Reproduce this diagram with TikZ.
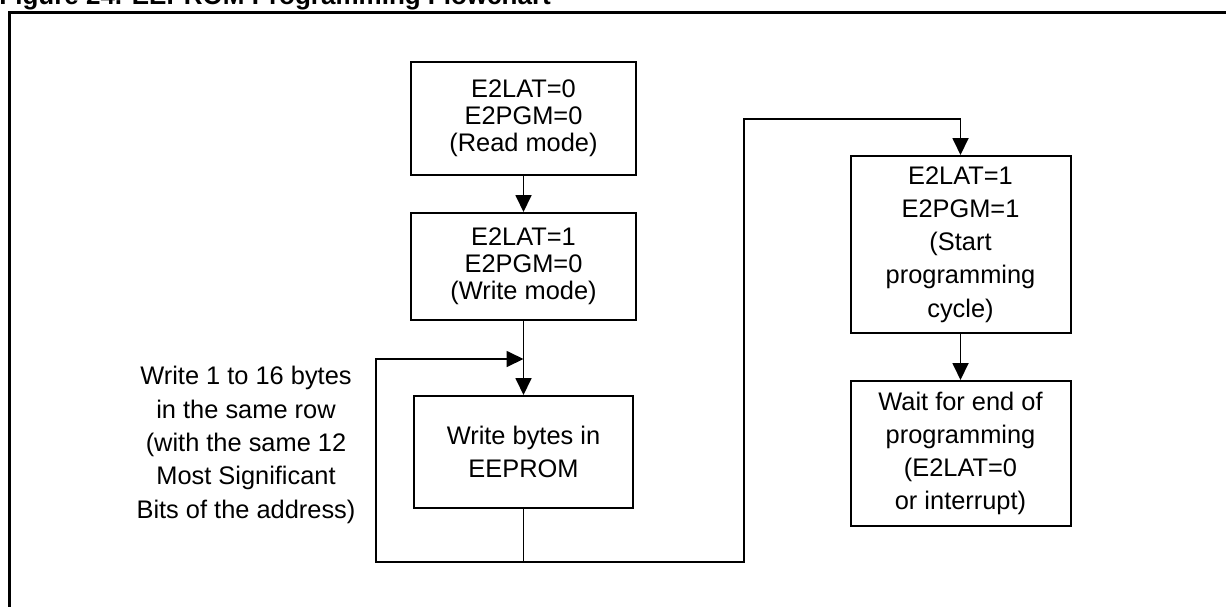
\documentclass[tikz,border=0pt]{standalone}
\usepackage{fontspec}
\setmainfont{Liberation Sans}
\usetikzlibrary{arrows.meta}

\tikzset{
  stepbox/.style={draw, line width=1pt, align=center, inner sep=0pt,
    font=\fontsize{12.7}{16.6}\selectfont},
  tightbox/.style={stepbox, font=\fontsize{12.7}{13.5}\selectfont},
  flow/.style={line width=0.9pt, -{Triangle[length=8.5pt,width=8pt]}},
  wire/.style={line width=0.9pt},
}

\begin{document}
\begin{tikzpicture}[x=0.5pt,y=-0.5pt]
  \useasboundingbox (0,0) rectangle (1226,606);
  \clip (0,0) rectangle (1226,606);

  % Title and frame
  \node[anchor=base west, inner sep=0pt, font=\fontsize{13}{15}\selectfont\bfseries] (title) at (-1,4) {Figure 24. EEPROM Programming Flowchart};
  \draw[line width=1.5pt] (9,620) -- (9,12) -- (1240,12);

  % Nodes
  \node[tightbox, minimum width=112.5pt, minimum height=56.5pt] (read) at (523.5,118.5) {E2LAT=0\\E2PGM=0\\(Read mode)};
  \node[tightbox, minimum width=112.5pt, minimum height=53.5pt] (write) at (523.5,266.5) {E2LAT=1\\E2PGM=0\\(Write mode)};
  \node[stepbox, minimum width=109.5pt, minimum height=56pt] (bytes) at (523.5,452) {Write bytes in\\EEPROM};
  \node[stepbox, minimum width=110pt, minimum height=88.5pt] (start) at (960.5,244.5) {E2LAT=1\\E2PGM=1\\(Start\\programming\\cycle)};
  \node[stepbox, minimum width=110pt, minimum height=72.5pt] (wait) at (960.5,453.5) {Wait for end of\\programming\\(E2LAT=0\\or interrupt)};
  \node[align=center, inner sep=0pt, font=\fontsize{12.7}{16.7}\selectfont] (note) at (246,445) {Write 1 to 16 bytes\\in the same row\\(with the same 12\\Most Significant\\Bits of the address)};

  % Loop corners
  \coordinate (loopL) at (376,562);
  \coordinate (loopR) at (744,562);
  \coordinate (merge) at (523.5,359);
  \coordinate (turn) at (744,119);

  % Edges
  \draw[flow] (read) -- (write);
  \draw[flow] (write) -- (bytes);
  \draw[wire] (bytes.south) -- (bytes.south |- loopL);
  \draw[flow] (bytes.south |- loopL) -- (loopL) |- (merge);
  \draw[flow] (bytes.south |- loopL) -- (loopR) -- (turn) -| (start.north);
  \draw[flow] (start) -- (wait);

\end{tikzpicture}
\end{document}
